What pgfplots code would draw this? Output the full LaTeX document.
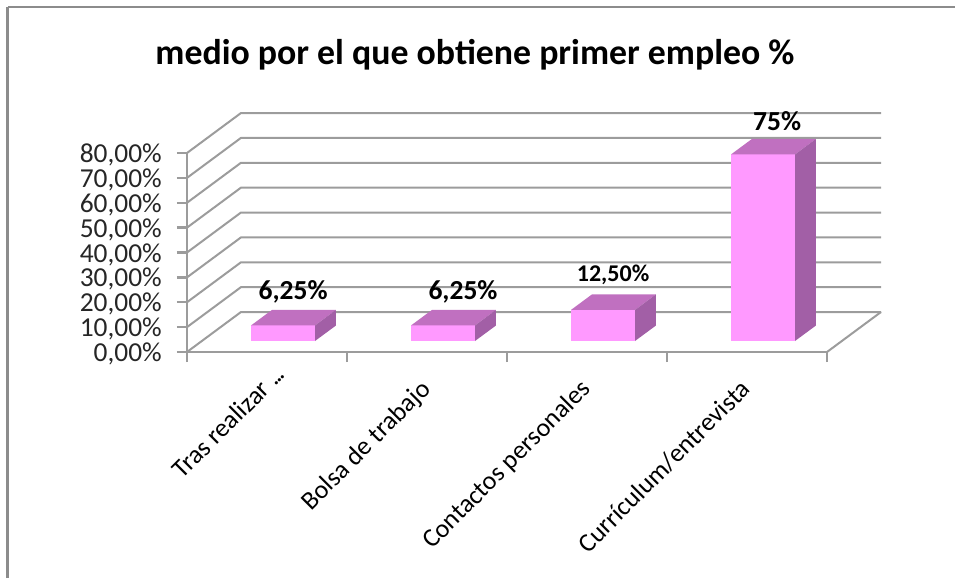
\documentclass[border=0pt]{standalone}
\usepackage{fontspec}
\setmainfont{Carlito}
\usepackage{pgfplots}
\pgfplotsset{compat=1.18}
\definecolor{frontc}{HTML}{FF99FF}
\definecolor{topc}{HTML}{C070C0}
\definecolor{sidec}{HTML}{A25FA6}
\definecolor{gridc}{HTML}{9C9C9C}
\begin{document}
\begin{tikzpicture}
% 1pt = 1px of the reference, axis origin sits at px (187,352)
\path[use as bounding box] (-187pt,-226pt) rectangle (768pt,352pt);
\draw[color=gridc!90!black, line width=3pt] (-179pt,-226pt) -- (-179pt,344.5pt);
\draw[color=gridc!90!black, line width=2pt] (-179pt,344.5pt) -- (768pt,344.5pt);
\begin{axis}[
  scale only axis, width=640pt, height=199pt,
  xmin=0, xmax=4, ymin=0, ymax=80,
  clip=false,
  axis x line=bottom, axis y line=left,
  axis line style={color=gridc, line width=2.4pt, -},
  xtick={0,1,2,3,4}, xticklabels={},
  extra x ticks={0.5,1.5,2.5,3.5},
  extra x tick labels={Tras realizar .\kern-2pt.\kern-2pt.\kern-21pt\mbox{},Bolsa de trabajo,Contactos personales,Currículum/entrevista},
  extra x tick style={major tick length=0pt,
    % the shifts act in the rotated frame of the label
    tick label style={rotate=45, anchor=north east, font=\fontsize{26}{26}\selectfont, inner sep=0pt, xshift=-23.7pt, yshift=-12.4pt}},
  ytick={0,10,...,80},
  yticklabels={{0,00\%},{10,00\%},{20,00\%},{30,00\%},{40,00\%},{50,00\%},{60,00\%},{70,00\%},{80,00\%}},
  y tick label style={font=\fontsize{27.4}{27.4}\selectfont, color=black!85, inner sep=0pt, xshift=-15pt, yshift=-2pt},
  tick style={color=gridc, line width=2.4pt},
  major tick length=10pt,
  tick align=outside,
  title={\fontsize{35.8}{35.8}\selectfont\bfseries medio por el que obtiene primer empleo \%},
  title style={at={(0.45,1)}, anchor=base, yshift=82pt, inner sep=0pt},
]
% side wall and back wall grid
\pgfplotsinvokeforeach{0,10,...,80}{
  \addplot[gridc, line width=2pt, forget plot] coordinates {(0,#1) (0.3375,#1+16.08) (4.3375,#1+16.08)};
}
% floor edge on the right
\addplot[gridc, line width=2pt, forget plot] coordinates {(4,0) (4.3375,16.08)};
% bars: front, top, side
\addplot[fill=frontc, draw=none, forget plot] coordinates {(0.4,4.42) (0.8,4.42) (0.8,10.67) (0.4,10.67)} -- cycle;
\addplot[fill=topc, draw=none, forget plot] coordinates {(0.4,10.67) (0.8,10.67) (0.931,16.9) (0.531,16.9)} -- cycle;
\addplot[fill=sidec, draw=none, forget plot] coordinates {(0.8,4.42) (0.931,10.65) (0.931,16.9) (0.8,10.67)} -- cycle;
\addplot[fill=frontc, draw=none, forget plot] coordinates {(1.4,4.42) (1.8,4.42) (1.8,10.67) (1.4,10.67)} -- cycle;
\addplot[fill=topc, draw=none, forget plot] coordinates {(1.4,10.67) (1.8,10.67) (1.931,16.9) (1.531,16.9)} -- cycle;
\addplot[fill=sidec, draw=none, forget plot] coordinates {(1.8,4.42) (1.931,10.65) (1.931,16.9) (1.8,10.67)} -- cycle;
\addplot[fill=frontc, draw=none, forget plot] coordinates {(2.4,4.42) (2.8,4.42) (2.8,16.92) (2.4,16.92)} -- cycle;
\addplot[fill=topc, draw=none, forget plot] coordinates {(2.4,16.92) (2.8,16.92) (2.931,23.15) (2.531,23.15)} -- cycle;
\addplot[fill=sidec, draw=none, forget plot] coordinates {(2.8,4.42) (2.931,10.65) (2.931,23.15) (2.8,16.92)} -- cycle;
\addplot[fill=frontc, draw=none, forget plot] coordinates {(3.4,4.42) (3.8,4.42) (3.8,79.42) (3.4,79.42)} -- cycle;
\addplot[fill=topc, draw=none, forget plot] coordinates {(3.4,79.42) (3.8,79.42) (3.931,85.65) (3.531,85.65)} -- cycle;
\addplot[fill=sidec, draw=none, forget plot] coordinates {(3.8,4.42) (3.931,10.65) (3.931,85.65) (3.8,79.42)} -- cycle;
% data labels
\node[font=\fontsize{27.5}{27.5}\selectfont\bfseries] at (axis cs:0.663,24.2) {6,25\%};
\node[font=\fontsize{27.5}{27.5}\selectfont\bfseries] at (axis cs:1.725,24.2) {6,25\%};
\node[font=\fontsize{24}{24}\selectfont\bfseries] at (axis cs:2.663,31) {12,50\%};
\node[font=\fontsize{27.5}{27.5}\selectfont\bfseries] at (axis cs:3.688,93) {75\%};
\end{axis}
\end{tikzpicture}
\end{document}
